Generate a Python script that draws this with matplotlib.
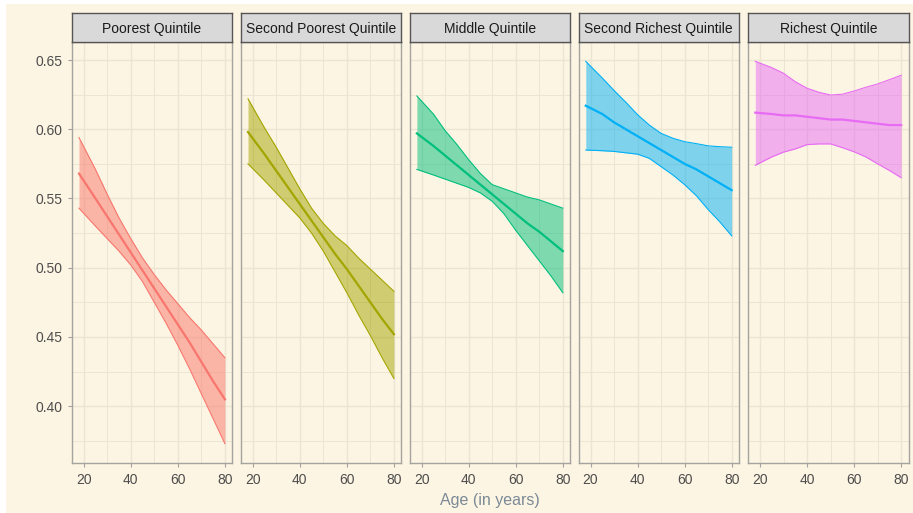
import matplotlib.pyplot as plt
from matplotlib.patches import Rectangle
from matplotlib.ticker import MultipleLocator

plt.rcParams['font.family'] = ['Liberation Sans', 'DejaVu Sans']

ages = [18, 25, 30, 35, 40, 45, 50, 55, 60, 65, 70, 75, 80]

panels = ['Poorest Quintile', 'Second Poorest Quintile', 'Middle Quintile',
          'Second Richest Quintile', 'Richest Quintile']
colors = ['#F8766D', '#A3A500', '#00BF7D', '#00B0F6', '#E76BF3']

# fitted value and confidence band per quintile
poorest_mean = [0.568, 0.550, 0.537, 0.524, 0.511, 0.498, 0.485, 0.472, 0.459, 0.446, 0.432, 0.418, 0.405]
poorest_lo = [0.543, 0.530, 0.521, 0.512, 0.502, 0.490, 0.475, 0.460, 0.444, 0.427, 0.409, 0.391, 0.373]
poorest_hi = [0.594, 0.571, 0.553, 0.536, 0.521, 0.507, 0.495, 0.484, 0.474, 0.464, 0.455, 0.445, 0.435]

second_poorest_mean = [0.598, 0.582, 0.570, 0.558, 0.546, 0.534, 0.522, 0.510, 0.499, 0.487, 0.475, 0.463, 0.452]
second_poorest_lo = [0.575, 0.563, 0.554, 0.545, 0.536, 0.525, 0.512, 0.497, 0.482, 0.466, 0.451, 0.435, 0.420]
second_poorest_hi = [0.622, 0.601, 0.587, 0.572, 0.557, 0.543, 0.532, 0.523, 0.516, 0.507, 0.499, 0.491, 0.483]

middle_mean = [0.597, 0.588, 0.581, 0.574, 0.567, 0.560, 0.553, 0.546, 0.539, 0.532, 0.526, 0.519, 0.512]
middle_lo = [0.571, 0.567, 0.564, 0.561, 0.558, 0.554, 0.548, 0.539, 0.527, 0.516, 0.505, 0.494, 0.482]
middle_hi = [0.624, 0.611, 0.599, 0.589, 0.578, 0.568, 0.560, 0.557, 0.554, 0.551, 0.549, 0.546, 0.543]

second_richest_mean = [0.617, 0.611, 0.605, 0.600, 0.595, 0.590, 0.585, 0.580, 0.575, 0.571, 0.566, 0.561, 0.556]
second_richest_lo = [0.585, 0.5845, 0.584, 0.583, 0.582, 0.579, 0.573, 0.567, 0.560, 0.552, 0.542, 0.533, 0.523]
second_richest_hi = [0.649, 0.637, 0.628, 0.6195, 0.6105, 0.603, 0.597, 0.5935, 0.591, 0.5896, 0.588, 0.5874, 0.587]

richest_mean = [0.612, 0.611, 0.610, 0.610, 0.609, 0.608, 0.607, 0.607, 0.606, 0.605, 0.604, 0.603, 0.603]
richest_lo = [0.574, 0.580, 0.5835, 0.5858, 0.5889, 0.5894, 0.5894, 0.5867, 0.5837, 0.580, 0.575, 0.5702, 0.565]
richest_hi = [0.649, 0.6445, 0.6404, 0.6343, 0.6296, 0.6267, 0.6247, 0.6253, 0.6276, 0.6303, 0.6327, 0.6358, 0.639]

means = [poorest_mean, second_poorest_mean, middle_mean, second_richest_mean, richest_mean]
lows = [poorest_lo, second_poorest_lo, middle_lo, second_richest_lo, richest_lo]
highs = [poorest_hi, second_poorest_hi, middle_hi, second_richest_hi, richest_hi]

bg = '#FDF5E3'
grid_col = '#ECE5D2'
border = '#A3A3A0'

W, H = 913, 513
fig = plt.figure(figsize=(W / 100, H / 100), dpi=100, facecolor='white')
fig.patches.append(Rectangle((6 / W, 0), 1, 1 - 4 / H, transform=fig.transFigure,
                             facecolor=bg, edgecolor='none', zorder=-10))

lefts = [71.7, 240.7, 409.6, 578.5, 748.0]
pw = 160.5
top, bottom = 42, 463
strip_h = 29

for i, name in enumerate(panels):
    ax = fig.add_axes([lefts[i] / W, 1 - bottom / H, pw / W, (bottom - top) / H])
    ax.set_facecolor(bg)
    ax.fill_between(ages, lows[i], highs[i], color=colors[i], alpha=0.5, lw=0)
    ax.plot(ages, lows[i], color=colors[i], lw=0.8)
    ax.plot(ages, highs[i], color=colors[i], lw=0.8)
    ax.plot(ages, means[i], color=colors[i], lw=1.6)

    ax.set_xlim(14.9, 83.1)
    ax.set_ylim(0.359, 0.663)
    ax.xaxis.set_major_locator(MultipleLocator(20))
    ax.xaxis.set_minor_locator(MultipleLocator(10))
    ax.yaxis.set_major_locator(MultipleLocator(0.05))
    ax.yaxis.set_minor_locator(MultipleLocator(0.025))
    ax.grid(True, which='major', color=grid_col, lw=1.0)
    ax.grid(True, which='minor', color=grid_col, lw=0.7)
    ax.set_axisbelow(True)
    for s in ax.spines.values():
        s.set_color(border)
        s.set_linewidth(1.0)
    ax.tick_params(which='minor', length=0)
    ax.tick_params(which='major', length=3, color=border, labelcolor='#4D4D4D',
                   labelsize=10)
    ax.tick_params(axis='x', pad=4.5)
    ax.tick_params(axis='y', pad=3.5)
    ax.set_xticks([20, 40, 60, 80])
    ax.set_xticklabels(['20', '40', '60', '80'])
    if i == 0:
        ax.set_yticks([0.40, 0.45, 0.50, 0.55, 0.60, 0.65])
        ax.set_yticklabels(['0.40', '0.45', '0.50', '0.55', '0.60', '0.65'])
    else:
        ax.tick_params(axis='y', which='both', left=False, labelleft=False)

    sax = fig.add_axes([lefts[i] / W, 1 - top / H, pw / W, strip_h / H])
    sax.set_facecolor('#D9D9D9')
    sax.set_xticks([])
    sax.set_yticks([])
    for s in sax.spines.values():
        s.set_color('#555555')
        s.set_linewidth(1.0)
    sax.text(0.5, 0.45, name, ha='center', va='center', fontsize=10, color='#1A1A1A',
             transform=sax.transAxes)

fig.text(490 / W, 1 - 500 / H, 'Age (in years)', ha='center', va='center',
         fontsize=11.5, color='#7B8A96')

fig.savefig('out.png', dpi=100, facecolor='white')
